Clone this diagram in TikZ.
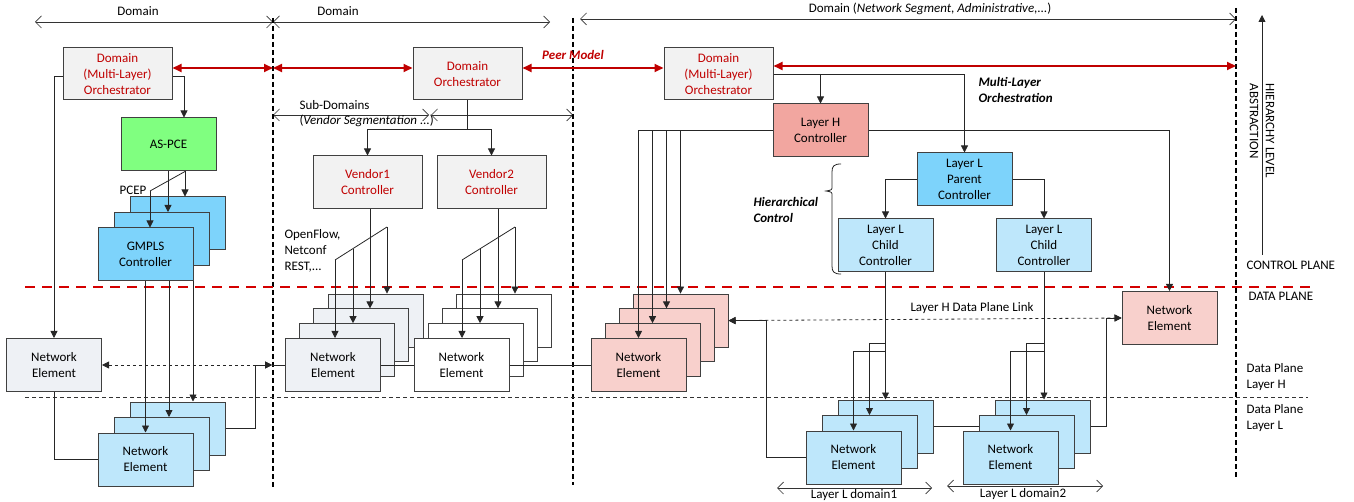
\documentclass[tikz,border=0pt]{standalone}
\usepackage{fontspec}
\setmainfont{Carlito}
\usetikzlibrary{arrows.meta}

\definecolor{orchgray}{RGB}{242,242,242}
\definecolor{orchred}{RGB}{192,0,0}
\definecolor{pcegreen}{RGB}{128,255,128}
\definecolor{ctrlblue}{RGB}{125,211,251}
\definecolor{neblue}{RGB}{190,231,251}
\definecolor{ctrlred}{RGB}{242,166,160}
\definecolor{nered}{RGB}{248,208,204}
\definecolor{negray}{RGB}{238,241,245}
\definecolor{planered}{RGB}{212,0,0}

\begin{document}
\begin{tikzpicture}[x=1pt,y=-1pt,
    font=\fontsize{13}{16}\selectfont,
    box/.style={draw=black!75, line width=1pt, minimum width=95pt, minimum height=53pt, align=center, inner sep=1pt},
    orch/.style={box, fill=orchgray, text=orchred, minimum width=109pt, minimum height=52pt},
    ne/.style={box, fill=neblue},
    conn/.style={draw=black!85, line width=0.8pt},
    arr/.style={conn, -{Triangle[length=7pt,width=7pt]}},
    dlink/.style={conn, dashed, {Triangle[length=7pt,width=7pt]}-{Triangle[length=7pt,width=7pt]}},
    peer/.style={draw=orchred, line width=1.8pt, {Triangle[length=9pt,width=8pt]}-{Triangle[length=9pt,width=8pt]}},
    span/.style={draw=black!80, line width=0.7pt, {Straight Barb[length=6pt,width=12pt]}-{Straight Barb[length=6pt,width=12pt]}},
    bound/.style={line width=1.5pt, dash pattern=on 5pt off 3pt},
    hint/.style={font=\fontsize{13}{16}\selectfont\bfseries\itshape, align=left}]
    \useasboundingbox (0,0) rectangle (1354,502);

    %Domain spans
    \draw[span] (35,22) -- (273,22);
    \node (domA) at (138,11) {Domain};
    \draw[span] (273,22) -- (550,22);
    \node (domB) at (338,11) {Domain};
    \draw[span] (580,19) -- (1236,19);
    \node (domC) at (930,9) {Domain (\textit{Network Segment, Administrative,...})};
    \draw[span] (273,115) -- (429,115);
    \draw[span] (431,115) -- (573,115);
    \node[anchor=west] (subdom) at (296,105) {Sub-Domains};
    \node[anchor=west] (vendseg) at (296,121) {(\textit{Vendor Segmentation ...})};

    %Domain borders
    \draw[bound] (273,18) -- (273,487);
    \draw[bound] (573,18) -- (573,485);
    \draw[bound] (1236,8) -- (1236,478);
    \coordinate (bndA) at (273,68);
    \coordinate (bndC) at (1236,66);
    \coordinate (crossL) at (272,365);

    %Plane borders
    \draw[planered, line width=2pt, dash pattern=on 10pt off 7pt] (25,287) -- (1315,287);
    \draw[black!80, line width=0.8pt, dash pattern=on 4pt off 3pt] (25,397) -- (1308,397);
    \node[anchor=west] (cplane) at (1243,265) {CONTROL PLANE};
    \node[anchor=west] (dplane) at (1245,296) {DATA PLANE};
    \node[anchor=west, align=left] (dplH) at (1243,377) {Data Plane\\Layer H};
    \node[anchor=west, align=left] (dplL) at (1243,418) {Data Plane\\Layer L};

    %Hierarchy axis
    \draw[arr] (1262,255) -- (1262,15);
    \node[rotate=-90, anchor=west] (hier) at (1270,80) {HIERARCHY LEVEL};
    \node[rotate=-90, anchor=west] (abstr) at (1254,80) {ABSTRACTION};

    %Left domain
    \node[orch] (orchL) at (117.5,74) {Domain\\(Multi-Layer)\\Orchestrator};
    \node[box, fill=pcegreen] (aspce) at (168.5,144.5) {AS-PCE};
    \foreach \i in {3,2} \node[box, fill=ctrlblue] (gm\i) at ({145.5+16*(\i-1)},{254.5-15.5*(\i-1)}) {};
    \node[box, fill=ctrlblue] (gm1) at (145.5,254.5) {GMPLS\\Controller};
    \node[box, fill=negray] (neL) at (54,365) {Network\\Element};
    \foreach \i in {3,2} \node[ne] (neLb\i) at ({145.5+16*(\i-1)},{459.5-15.5*(\i-1)}) {};
    \node[ne] (neLb1) at (145.5,459.5) {Network\\Element};

    %Middle domain
    \node[orch] (orchM) at (467.5,74) {Domain\\Orchestrator};
    \node[orch, minimum height=53pt] (vend1) at (367.5,182.5) {Vendor1\\Controller};
    \node[orch, minimum height=53pt] (vend2) at (491.5,182.5) {Vendor2\\Controller};
    \foreach \i in {4,3,2} \node[box, fill=negray] (neVa\i) at ({333+14.2*(\i-1)},{365-14.8*(\i-1)}) {};
    \node[box, fill=negray] (neVa1) at (333,365) {Network\\Element};
    \foreach \i in {4,3,2} \node[box, fill=white] (neVb\i) at ({461.5+14.3*(\i-1)},{365-14.8*(\i-1)}) {};
    \node[box, fill=white] (neVb1) at (461.5,365) {Network\\Element};

    %Right domain
    \node[orch] (orchR) at (718.5,74) {Domain\\(Multi-Layer)\\Orchestrator};
    \node[box, fill=ctrlred] (layH) at (820.5,130.5) {Layer H\\Controller};
    \node[box, fill=ctrlblue] (parL) at (964.5,179.5) {Layer L\\Parent\\Controller};
    \node[ne] (ch1) at (885.5,245.5) {Layer L\\Child\\Controller};
    \node[ne] (ch2) at (1044,245.5) {Layer L\\Child\\Controller};
    \foreach \i in {4,3,2} \node[box, fill=nered] (neH\i) at ({638.5+14*(\i-1)},{365-14.8*(\i-1)}) {};
    \node[box, fill=nered] (neH1) at (638.5,365) {Network\\Element};
    \node[box, fill=nered] (neHR) at (1169.5,318) {Network\\Element};
    \foreach \i in {3,2} \node[ne] (neDa\i) at ({853.5+16*(\i-1)},{457.5-15.5*(\i-1)}) {};
    \node[ne] (neDa1) at (853.5,457.5) {Network\\Element};
    \foreach \i in {3,2} \node[ne] (neDb\i) at ({1010.5+16*(\i-1)},{457.5-15.5*(\i-1)}) {};
    \node[ne] (neDb1) at (1010.5,457.5) {Network\\Element};

    %Peer model links
    \draw[peer] ([yshift=6pt]orchL.east) -- (bndA);
    \draw[peer] (bndA) -- ([yshift=6pt]orchM.west);
    \draw[peer] ([yshift=6pt]orchM.east) -- ([yshift=6pt]orchR.west);
    \draw[peer] ([yshift=8pt]orchR.east) -- (bndC);
    \node[text=orchred, font=\fontsize{13}{16}\selectfont\bfseries\itshape] (peerlbl) at (573,55) {Peer Model};

    %Left domain links
    \draw[arr] ([yshift=-2pt]orchL.east) -| ([xshift=15.5pt]aspce.north);
    \draw[arr] ([yshift=-2pt]orchL.west) -| (neL.north);
    \coordinate (pcep) at (150,191);
    \draw[conn] (185,0 |- aspce.south) -- (pcep);
    \draw[arr] (185,0 |- aspce.south) -- (185,0 |- gm3.north);
    \draw[arr] (168,0 |- aspce.south) -- (168,0 |- gm2.north);
    \draw[arr] (pcep) -- (pcep |- gm1.north);
    \node (pceplbl) at (133,190) {PCEP};
    \foreach \x/\i in {145.5/1,169/2,193/3} \draw[arr] (\x,0 |- gm1.south) -- (\x,0 |- neLb\i.north);
    \draw[conn] (neL.south) |- (neLb1.west);
    \draw[dlink] (neL.east) -- (crossL);
    \draw[arr] (neLb3.east) -- ++(30,0) |- (crossL);
    \draw[conn] (crossL) -- (neVa1.west);

    %Middle domain links
    \draw[arr] (orchM.south) -- (orchM.south |- 0,129) -| (vend1.north);
    \draw[arr] (orchM.south |- 0,129) -| (vend2.north);
    \coordinate (fanA) at (387,227);
    \coordinate (fanB) at (335,260);
    \draw[conn] (fanA) -- (fanB);
    \draw[arr] (370,0 |- vend1.south) -- (370,0 |- neVa3.north);
    \draw[arr] (fanA) -- (fanA |- neVa4.north);
    \draw[arr] (353,249) -- (353,0 |- neVa2.north);
    \draw[arr] (fanB) -- (fanB |- neVa1.north);
    \coordinate (fanC) at (515,227);
    \coordinate (fanD) at (462,260);
    \draw[conn] (fanC) -- (fanD);
    \draw[arr] (498,0 |- vend2.south) -- (498,0 |- neVb3.north);
    \draw[arr] (fanC) -- (fanC |- neVb4.north);
    \draw[arr] (480,249) -- (480,0 |- neVb2.north);
    \draw[arr] (fanD) -- (fanD |- neVb1.north);
    \node[anchor=north west, align=left] (proto) at (281,226) {OpenFlow,\\Netconf\\REST,...};
    \draw[conn] (neVa1.east) -- (neVb1.west);
    \draw[conn] (neVb1.east) -- (neH1.west);

    %Right domain links
    \draw[arr] (orchR.east) -| (parL.north);
    \draw[arr] (orchR.east -| layH.north) -- (layH.north);
    \node[hint, anchor=west] (mlo) at (975,90) {Multi-Layer\\Orchestration};
    \foreach \i in {1,...,4} \draw[arr] (layH.west) -| (neH\i.north);
    \draw[arr] (layH.east) -| (neHR.north);
    \draw[arr] (parL.west) -| (ch1.north);
    \draw[arr] (parL.east) -| (ch2.north);
    \draw[conn] (841,164) .. controls (834,164) and (832,166) .. (832,172) -- (832,186) .. controls (832,190) .. (826,191) .. controls (832,192) .. (832,196) -- (832,266) .. controls (832,272) and (834,274) .. (841,274);
    \node[hint, anchor=west] (hctl) at (750,210) {Hierarchical\\Control};
    \draw[arr] (ch1.south) -- (ch1.south |- neDa3.north);
    \draw[arr] (ch1.south |- 0,343) -| (neDa2.north);
    \draw[arr] (ch1.south |- 0,351) -| (neDa1.north);
    \draw[arr] (ch2.south) -- (ch2.south |- neDb3.north);
    \draw[arr] (ch2.south |- 0,343) -| (neDb2.north);
    \draw[arr] (ch2.south |- 0,351) -| (neDb1.north);
    \draw[dlink] (neH4.east) -- (neHR.west);
    \node (linkH) at (972,308) {Layer H Data Plane Link};
    \draw[arr] (neDa1.west) -- ++(-39,0) |- (neH4.east);
    \draw[conn] (neDa3.east) -- (neDa3.east -| neDb2.west);
    \draw[arr] (neDb3.east) -- ++(16,0) |- (neHR.west);

    %Layer L domains
    \draw[span] (777,488) -- (932,488);
    \node (ldom1) at (854,495) {Layer L domain1};
    \draw[span] (947,486) -- (1103,486);
    \node (ldom2) at (1023,494) {Layer L domain2};
\end{tikzpicture}
\end{document}
